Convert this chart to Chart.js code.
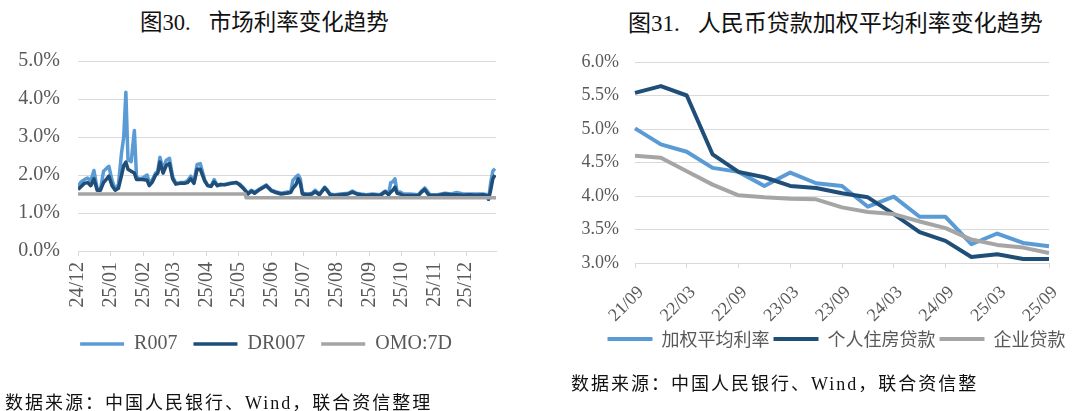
<!DOCTYPE html>
<html>
<head>
<meta charset="utf-8">
<script src="https://cdn.jsdelivr.net/npm/chart.js@4.4.1/dist/chart.umd.min.js"></script>
<style>
  body { margin: 0; width: 1080px; height: 411px; background: #fff; position: relative; overflow: hidden; }
  canvas { position: absolute; top: 0; }
  #leftChart { left: 0; }
  #rightChart { left: 540px; }
  .title { position: absolute; font-family: 'Noto Sans CJK SC', sans-serif; color: #111; white-space: nowrap; line-height: 30px; }
  .title .num { font-family: 'Liberation Serif', serif; }
  .source { position: absolute; font-family: 'Noto Sans CJK SC', sans-serif; font-size: 18px; letter-spacing: 2px; color: #111; white-space: nowrap; line-height: 24px; }
  .source .latin { font-family: 'Liberation Serif', serif; }
</style>
</head>
<body>
<div class="title" style="left:140px; top:5px; font-size:22.5px;">图<span class="num">30.</span><span style="margin-left:18px">市场利率变化趋势</span></div>
<div class="title" style="left:628px; top:6px; font-size:23px;">图<span class="num">31.</span><span style="margin-left:18px">人民币贷款加权平均利率变化趋势</span></div>
<canvas id="leftChart" width="540" height="411"></canvas>
<canvas id="rightChart" width="540" height="411"></canvas>
<div class="source" style="left:5px; top:389px;">数据来源：中国人民银行、<span class="latin">Wind</span>，联合资信整理</div>
<div class="source" style="left:571px; top:370px;">数据来源：中国人民银行、<span class="latin">Wind</span>，联合资信整</div>

<script>
// ---------- left chart: market rates, day index counted from 2024-12-01 ----------
const rateDays = [0, 3, 6, 9, 12, 15, 18, 21, 24, 27, 29, 32, 35, 38, 41, 43, 45, 47, 50, 53,
  55, 58, 61, 65, 67, 70, 73, 75, 77, 80, 83, 86, 89, 92, 96, 100, 103, 106, 109, 112,
  115, 119, 122, 125, 128, 131, 134, 138, 144, 149, 152, 155, 158, 160, 163, 166, 171, 177, 182, 186,
  191, 196, 200, 202, 205, 207, 209, 211, 216, 220, 223, 227, 232, 234, 237, 241, 247, 254, 258, 262,
  266, 271, 277, 284, 289, 292, 294, 296, 298, 300, 303, 306, 312, 320, 323, 326, 329, 331, 338, 345,
  351, 356, 362, 368, 374, 381, 385, 386, 388, 390, 392];
const r007 = [1.70, 1.82, 1.88, 1.92, 1.85, 2.12, 1.65, 1.60, 2.10, 2.18, 2.23, 1.86, 1.62, 1.75, 2.60, 3.00, 4.18, 2.40, 2.35, 3.17,
  1.95, 1.90, 1.92, 2.00, 1.80, 1.88, 2.05, 2.10, 2.47, 2.15, 2.39, 2.44, 1.95, 1.78, 1.80, 1.80, 1.85, 1.97, 1.80, 2.28,
  2.30, 1.88, 1.72, 1.70, 1.88, 1.72, 1.75, 1.76, 1.79, 1.80, 1.76, 1.68, 1.58, 1.52, 1.60, 1.55, 1.64, 1.74, 1.60, 1.56,
  1.52, 1.55, 1.56, 1.86, 1.95, 2.00, 1.90, 1.52, 1.50, 1.52, 1.60, 1.50, 1.68, 1.62, 1.50, 1.48, 1.50, 1.52, 1.58, 1.52,
  1.50, 1.48, 1.50, 1.48, 1.58, 1.50, 1.80, 1.82, 1.90, 1.55, 1.55, 1.50, 1.50, 1.48, 1.58, 1.66, 1.55, 1.48, 1.48, 1.52,
  1.50, 1.54, 1.50, 1.50, 1.50, 1.50, 1.48, 1.36, 1.80, 2.10, 2.17];
const dr007 = [1.62, 1.70, 1.78, 1.80, 1.72, 1.90, 1.60, 1.60, 1.80, 1.90, 1.97, 1.72, 1.60, 1.65, 2.00, 2.25, 2.34, 2.15, 2.10, 2.05,
  1.88, 1.88, 1.88, 1.86, 1.72, 1.82, 2.00, 2.05, 2.34, 2.05, 2.25, 2.30, 1.90, 1.76, 1.78, 1.78, 1.80, 1.90, 1.78, 2.15,
  2.15, 1.85, 1.72, 1.70, 1.82, 1.72, 1.75, 1.74, 1.78, 1.80, 1.74, 1.66, 1.56, 1.50, 1.58, 1.52, 1.62, 1.72, 1.58, 1.54,
  1.50, 1.52, 1.54, 1.65, 1.75, 1.90, 1.78, 1.50, 1.48, 1.50, 1.56, 1.48, 1.66, 1.60, 1.48, 1.46, 1.48, 1.50, 1.55, 1.50,
  1.48, 1.46, 1.48, 1.46, 1.56, 1.48, 1.55, 1.60, 1.68, 1.52, 1.50, 1.46, 1.46, 1.46, 1.55, 1.62, 1.50, 1.46, 1.46, 1.50,
  1.48, 1.48, 1.47, 1.48, 1.47, 1.48, 1.45, 1.36, 1.60, 1.90, 2.00];
const omoDays = [0, 157, 158, 393];
const omo7d = [1.5, 1.5, 1.4, 1.4];
const monthDays = [0, 31, 62, 90, 121, 151, 182, 212, 243, 274, 304, 335, 365];
const monthLabels = ['24/12', '25/01', '25/02', '25/03', '25/04', '25/05', '25/06',
  '25/07', '25/08', '25/09', '25/10', '25/11', '25/12'];

// ---------- right chart: loan rates by quarter ----------
const quarters = ['21/09', '21/12', '22/03', '22/06', '22/09', '22/12', '23/03', '23/06', '23/09',
  '23/12', '24/03', '24/06', '24/09', '24/12', '25/03', '25/06', '25/09'];
const avgRate = [5.01, 4.77, 4.66, 4.42, 4.36, 4.15, 4.35, 4.19, 4.15, 3.84, 3.99, 3.69, 3.69, 3.28, 3.44, 3.30, 3.25];
const mortgageRate = [5.54, 5.64, 5.50, 4.62, 4.36, 4.28, 4.15, 4.12, 4.04, 3.98, 3.73, 3.46, 3.33, 3.09, 3.13, 3.06, 3.06];
const corpRate = [4.60, 4.57, 4.37, 4.17, 4.01, 3.98, 3.96, 3.95, 3.83, 3.76, 3.73, 3.62, 3.52, 3.35, 3.27, 3.23, 3.15];

const textGray = '#595959';
const gridGray = '#D9D9D9';
const lightBlue = '#5B9BD5';
const darkBlue = '#1F4E79';
const gray = '#A5A5A5';

Chart.defaults.font.family = "'Liberation Serif', 'Noto Sans CJK SC', serif";
Chart.defaults.color = textGray;

const toPoints = (xs, ys) => xs.map((x, i) => ({ x: x, y: ys[i] }));
const pct = (v) => Number(v).toFixed(1) + '%';

// move the legend sideways so it sits where the original one is
const shiftLegend = (dx) => ({
  id: 'shiftLegend',
  afterLayout(chart) {
    chart.legend.left += dx;
    chart.legend.right += dx;
  }
});

// left chart
new Chart(document.getElementById('leftChart'), {
  type: 'line',
  data: {
    datasets: [
      { label: 'R007', data: toPoints(rateDays, r007), borderColor: lightBlue, backgroundColor: lightBlue, borderWidth: 3.5, order: 3 },
      { label: 'DR007', data: toPoints(rateDays, dr007), borderColor: darkBlue, backgroundColor: darkBlue, borderWidth: 3.5, order: 2 },
      { label: 'OMO:7D', data: toPoints(omoDays, omo7d), borderColor: gray, backgroundColor: gray, borderWidth: 3.5, order: 1 }
    ]
  },
  options: {
    responsive: false,
    animation: false,
    elements: { point: { radius: 0 }, line: { tension: 0, borderJoinStyle: 'round' } },
    layout: { padding: { left: 0, right: 44, top: 61, bottom: 47 } },
    scales: {
      x: {
        type: 'linear', min: 0, max: 393,
        afterBuildTicks: (s) => { s.ticks = monthDays.map((v) => ({ value: v })); },
        afterFit: (s) => { s.height = 67; },
        ticks: {
          autoSkip: false, minRotation: 90, maxRotation: 90, padding: 6,
          font: { size: 20 },
          callback: (v) => monthLabels[monthDays.indexOf(v)]
        },
        grid: { drawOnChartArea: false, tickLength: 5, color: gridGray },
        border: { color: gridGray }
      },
      y: {
        min: 0, max: 5,
        afterFit: (s) => { s.width = 78; },
        ticks: { stepSize: 1, padding: 18, font: { size: 20 }, callback: pct },
        grid: { color: gridGray, drawTicks: false },
        border: { display: false }
      }
    },
    plugins: {
      legend: {
        position: 'bottom',
        labels: {
          usePointStyle: true, pointStyle: 'line', pointStyleWidth: 44, padding: 16,
          font: { size: 20 },
          sort: (a, b) => a.datasetIndex - b.datasetIndex
        }
      },
      tooltip: { enabled: false }
    }
  },
  plugins: [shiftLegend(18)]
});

// right chart
new Chart(document.getElementById('rightChart'), {
  type: 'line',
  data: {
    labels: quarters,
    datasets: [
      { label: '加权平均利率', data: avgRate, borderColor: lightBlue, backgroundColor: lightBlue, borderWidth: 4, order: 3 },
      { label: '个人住房贷款', data: mortgageRate, borderColor: darkBlue, backgroundColor: darkBlue, borderWidth: 4, order: 2 },
      { label: '企业贷款', data: corpRate, borderColor: gray, backgroundColor: gray, borderWidth: 4, order: 1 }
    ]
  },
  options: {
    responsive: false,
    animation: false,
    elements: { point: { radius: 0 }, line: { tension: 0, borderJoinStyle: 'round' } },
    layout: { padding: { left: 0, right: 31, top: 62, bottom: 53 } },
    scales: {
      x: {
        offset: false,
        afterFit: (s) => { s.height = 63; },
        ticks: {
          autoSkip: false, minRotation: 45, maxRotation: 45, padding: 14, labelOffset: 6,
          font: { size: 18 },
          callback: function (v, i) { return i % 2 === 0 ? this.getLabelForValue(v) : null; }
        },
        grid: { drawOnChartArea: false, tickLength: 5, color: gridGray },
        border: { color: gridGray }
      },
      y: {
        min: 3, max: 6,
        afterFit: (s) => { s.width = 95; },
        ticks: { stepSize: 0.5, padding: 16, font: { size: 18 }, callback: pct },
        grid: { color: gridGray, drawTicks: false },
        border: { display: false }
      }
    },
    plugins: {
      legend: {
        position: 'bottom',
        labels: {
          usePointStyle: true, pointStyle: 'line', pointStyleWidth: 45, padding: 4,
          font: { size: 18, family: "'Noto Sans CJK SC', sans-serif" },
          sort: (a, b) => a.datasetIndex - b.datasetIndex
        }
      },
      tooltip: { enabled: false }
    }
  },
  plugins: [shiftLegend(42)]
});
</script>
</body>
</html>
